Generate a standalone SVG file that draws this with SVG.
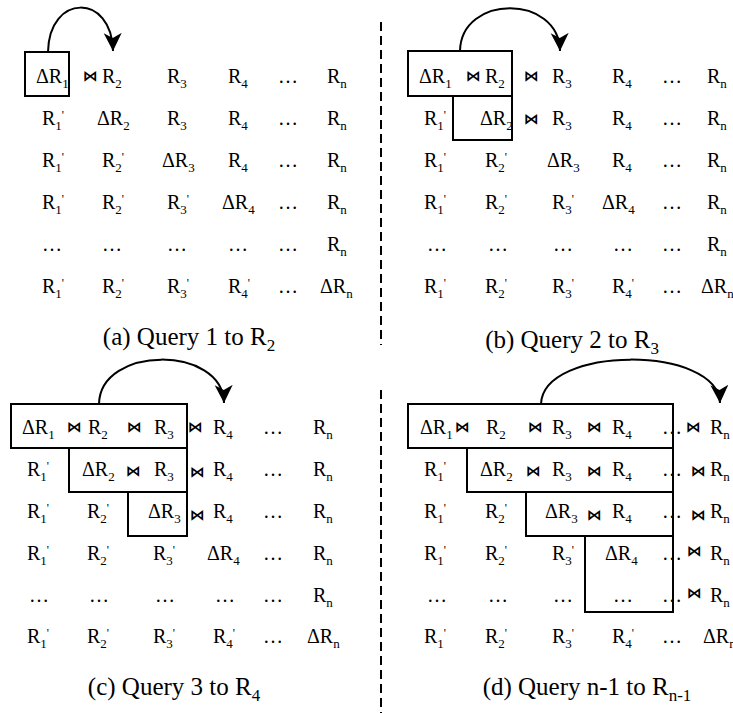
<svg xmlns="http://www.w3.org/2000/svg" width="733" height="713" viewBox="0 0 733 713" font-family="'Liberation Serif','Times New Roman',Tinos,'Nimbus Roman','DejaVu Serif',serif">
<style>
.t{font-family:"Liberation Serif","Times New Roman",Tinos,"Nimbus Roman","DejaVu Serif",serif;font-size:20px;fill:#000}
.s{font-size:13px}
.p{font-size:12px}
.cs{font-size:17px}
.cap{font-size:25px}
.j{font-family:"DejaVu Sans",sans-serif;font-size:15px;font-weight:bold;fill:#000}
.box{fill:none;stroke:#000;stroke-width:2}
.arc{fill:none;stroke:#000;stroke-width:2;marker-end:url(#ah)}
.dv{stroke:#000;stroke-width:2;stroke-dasharray:9 5}
</style>
<defs>
<marker id="ah" markerUnits="userSpaceOnUse" markerWidth="20" markerHeight="20" refX="18" refY="9" orient="auto">
<path d="M0,0 L18,9 L0,18 L5,9 Z" fill="#000"/>
</marker>
</defs>
<rect width="733" height="713" fill="#fff"/>
<g id="dividers">
<line class="dv" x1="381" y1="22" x2="381" y2="345"/>
<line class="dv" x1="381" y1="390" x2="381" y2="713"/>
</g>
<g id="connectors">
<path class="arc" d="M48,52 C49,-7 112,-7 113,51"/>
<path class="arc" d="M460,51 C461,-6 559,-6 560,51"/>
<path class="arc" d="M99,404 C100,345 223,345 224,403"/>
<path class="arc" d="M541,404 C543,345 718,345 720,403"/>
</g>
<g id="panel-a">
<g id="a-box1"><rect class="box" x="25" y="52" width="44" height="44"/></g>
<g id="a-row1">
<text class="t" x="36" y="83">ΔR<tspan class="s" dy="5">1</tspan></text>
<text class="j" x="83" y="81">⋈</text>
<text class="t" x="102" y="83">R<tspan class="s" dy="5">2</tspan></text>
<text class="t" x="167" y="83">R<tspan class="s" dy="5">3</tspan></text>
<text class="t" x="228" y="83">R<tspan class="s" dy="5">4</tspan></text>
<text class="t" x="278" y="83">…</text>
<text class="t" x="327" y="83">R<tspan class="s" dy="5">n</tspan></text>
</g>
<g id="a-row2">
<text class="t" x="42" y="125">R<tspan class="s" dy="5">1</tspan><tspan class="p" dy="-11">'</tspan></text>
<text class="t" x="97" y="125">ΔR<tspan class="s" dy="5">2</tspan></text>
<text class="t" x="167" y="125">R<tspan class="s" dy="5">3</tspan></text>
<text class="t" x="228" y="125">R<tspan class="s" dy="5">4</tspan></text>
<text class="t" x="278" y="125">…</text>
<text class="t" x="327" y="125">R<tspan class="s" dy="5">n</tspan></text>
</g>
<g id="a-row3">
<text class="t" x="42" y="167">R<tspan class="s" dy="5">1</tspan><tspan class="p" dy="-11">'</tspan></text>
<text class="t" x="102" y="167">R<tspan class="s" dy="5">2</tspan><tspan class="p" dy="-11">'</tspan></text>
<text class="t" x="162" y="167">ΔR<tspan class="s" dy="5">3</tspan></text>
<text class="t" x="228" y="167">R<tspan class="s" dy="5">4</tspan></text>
<text class="t" x="278" y="167">…</text>
<text class="t" x="327" y="167">R<tspan class="s" dy="5">n</tspan></text>
</g>
<g id="a-row4">
<text class="t" x="42" y="209">R<tspan class="s" dy="5">1</tspan><tspan class="p" dy="-11">'</tspan></text>
<text class="t" x="102" y="209">R<tspan class="s" dy="5">2</tspan><tspan class="p" dy="-11">'</tspan></text>
<text class="t" x="167" y="209">R<tspan class="s" dy="5">3</tspan><tspan class="p" dy="-11">'</tspan></text>
<text class="t" x="222" y="209">ΔR<tspan class="s" dy="5">4</tspan></text>
<text class="t" x="278" y="209">…</text>
<text class="t" x="327" y="209">R<tspan class="s" dy="5">n</tspan></text>
</g>
<g id="a-row5">
<text class="t" x="42" y="251">…</text>
<text class="t" x="102" y="251">…</text>
<text class="t" x="167" y="251">…</text>
<text class="t" x="228" y="251">…</text>
<text class="t" x="278" y="251">…</text>
<text class="t" x="327" y="251">R<tspan class="s" dy="5">n</tspan></text>
</g>
<g id="a-row6">
<text class="t" x="42" y="293">R<tspan class="s" dy="5">1</tspan><tspan class="p" dy="-11">'</tspan></text>
<text class="t" x="102" y="293">R<tspan class="s" dy="5">2</tspan><tspan class="p" dy="-11">'</tspan></text>
<text class="t" x="167" y="293">R<tspan class="s" dy="5">3</tspan><tspan class="p" dy="-11">'</tspan></text>
<text class="t" x="228" y="293">R<tspan class="s" dy="5">4</tspan><tspan class="p" dy="-11">'</tspan></text>
<text class="t" x="278" y="293">…</text>
<text class="t" x="320" y="293">ΔR<tspan class="s" dy="5">n</tspan></text>
</g>
<text id="a-caption" class="t cap" x="189" y="345" text-anchor="middle">(a) Query 1 to R<tspan class="cs" dy="6">2</tspan></text>
</g>
<g id="panel-b">
<g id="b-box1"><rect class="box" x="408" y="51" width="104" height="45"/></g>
<g id="b-box2"><path class="box" d="M453,96 V140 H512 V96"/></g>
<g id="b-row1">
<text class="t" x="419" y="83">ΔR<tspan class="s" dy="5">1</tspan></text>
<text class="j" x="466" y="81">⋈</text>
<text class="t" x="485" y="83">R<tspan class="s" dy="5">2</tspan></text>
<text class="j" x="524" y="81">⋈</text>
<text class="t" x="552" y="83">R<tspan class="s" dy="5">3</tspan></text>
<text class="t" x="612" y="83">R<tspan class="s" dy="5">4</tspan></text>
<text class="t" x="662" y="83">…</text>
<text class="t" x="707" y="83">R<tspan class="s" dy="5">n</tspan></text>
</g>
<g id="b-row2">
<text class="t" x="424" y="125">R<tspan class="s" dy="5">1</tspan><tspan class="p" dy="-11">'</tspan></text>
<text class="t" x="480" y="125">ΔR<tspan class="s" dy="5">2</tspan></text>
<text class="j" x="524" y="124">⋈</text>
<text class="t" x="552" y="125">R<tspan class="s" dy="5">3</tspan></text>
<text class="t" x="612" y="125">R<tspan class="s" dy="5">4</tspan></text>
<text class="t" x="662" y="125">…</text>
<text class="t" x="707" y="125">R<tspan class="s" dy="5">n</tspan></text>
</g>
<g id="b-row3">
<text class="t" x="424" y="167">R<tspan class="s" dy="5">1</tspan><tspan class="p" dy="-11">'</tspan></text>
<text class="t" x="485" y="167">R<tspan class="s" dy="5">2</tspan><tspan class="p" dy="-11">'</tspan></text>
<text class="t" x="547" y="167">ΔR<tspan class="s" dy="5">3</tspan></text>
<text class="t" x="612" y="167">R<tspan class="s" dy="5">4</tspan></text>
<text class="t" x="662" y="167">…</text>
<text class="t" x="707" y="167">R<tspan class="s" dy="5">n</tspan></text>
</g>
<g id="b-row4">
<text class="t" x="424" y="209">R<tspan class="s" dy="5">1</tspan><tspan class="p" dy="-11">'</tspan></text>
<text class="t" x="485" y="209">R<tspan class="s" dy="5">2</tspan><tspan class="p" dy="-11">'</tspan></text>
<text class="t" x="552" y="209">R<tspan class="s" dy="5">3</tspan><tspan class="p" dy="-11">'</tspan></text>
<text class="t" x="602" y="209">ΔR<tspan class="s" dy="5">4</tspan></text>
<text class="t" x="662" y="209">…</text>
<text class="t" x="707" y="209">R<tspan class="s" dy="5">n</tspan></text>
</g>
<g id="b-row5">
<text class="t" x="427" y="251">…</text>
<text class="t" x="488" y="251">…</text>
<text class="t" x="553" y="251">…</text>
<text class="t" x="613" y="251">…</text>
<text class="t" x="662" y="251">…</text>
<text class="t" x="707" y="251">R<tspan class="s" dy="5">n</tspan></text>
</g>
<g id="b-row6">
<text class="t" x="424" y="293">R<tspan class="s" dy="5">1</tspan><tspan class="p" dy="-11">'</tspan></text>
<text class="t" x="485" y="293">R<tspan class="s" dy="5">2</tspan><tspan class="p" dy="-11">'</tspan></text>
<text class="t" x="552" y="293">R<tspan class="s" dy="5">3</tspan><tspan class="p" dy="-11">'</tspan></text>
<text class="t" x="612" y="293">R<tspan class="s" dy="5">4</tspan><tspan class="p" dy="-11">'</tspan></text>
<text class="t" x="662" y="293">…</text>
<text class="t" x="701" y="293">ΔR<tspan class="s" dy="5">n</tspan></text>
</g>
<text id="b-caption" class="t cap" x="572" y="348" text-anchor="middle">(b) Query 2 to R<tspan class="cs" dy="6">3</tspan></text>
</g>
<g id="panel-c">
<g id="c-box1"><rect class="box" x="11" y="404" width="176" height="44"/></g>
<g id="c-box2"><path class="box" d="M69,448 V492 H187 V448"/></g>
<g id="c-box3"><path class="box" d="M128,492 V536 H187 V492"/></g>
<g id="c-row1">
<text class="t" x="22" y="434">ΔR<tspan class="s" dy="5">1</tspan></text>
<text class="j" x="67" y="432">⋈</text>
<text class="t" x="88" y="434">R<tspan class="s" dy="5">2</tspan></text>
<text class="j" x="127" y="432">⋈</text>
<text class="t" x="154" y="434">R<tspan class="s" dy="5">3</tspan></text>
<text class="j" x="188" y="432">⋈</text>
<text class="t" x="213" y="434">R<tspan class="s" dy="5">4</tspan></text>
<text class="t" x="263" y="434">…</text>
<text class="t" x="313" y="434">R<tspan class="s" dy="5">n</tspan></text>
</g>
<g id="c-row2">
<text class="t" x="27" y="476">R<tspan class="s" dy="5">1</tspan><tspan class="p" dy="-11">'</tspan></text>
<text class="t" x="82" y="476">ΔR<tspan class="s" dy="5">2</tspan></text>
<text class="j" x="126" y="476">⋈</text>
<text class="t" x="154" y="476">R<tspan class="s" dy="5">3</tspan></text>
<text class="j" x="190" y="477">⋈</text>
<text class="t" x="213" y="476">R<tspan class="s" dy="5">4</tspan></text>
<text class="t" x="263" y="476">…</text>
<text class="t" x="313" y="476">R<tspan class="s" dy="5">n</tspan></text>
</g>
<g id="c-row3">
<text class="t" x="27" y="518">R<tspan class="s" dy="5">1</tspan><tspan class="p" dy="-11">'</tspan></text>
<text class="t" x="87" y="518">R<tspan class="s" dy="5">2</tspan><tspan class="p" dy="-11">'</tspan></text>
<text class="t" x="148" y="518">ΔR<tspan class="s" dy="5">3</tspan></text>
<text class="j" x="190" y="520">⋈</text>
<text class="t" x="213" y="518">R<tspan class="s" dy="5">4</tspan></text>
<text class="t" x="263" y="518">…</text>
<text class="t" x="313" y="518">R<tspan class="s" dy="5">n</tspan></text>
</g>
<g id="c-row4">
<text class="t" x="27" y="560">R<tspan class="s" dy="5">1</tspan><tspan class="p" dy="-11">'</tspan></text>
<text class="t" x="87" y="560">R<tspan class="s" dy="5">2</tspan><tspan class="p" dy="-11">'</tspan></text>
<text class="t" x="153" y="560">R<tspan class="s" dy="5">3</tspan><tspan class="p" dy="-11">'</tspan></text>
<text class="t" x="207" y="560">ΔR<tspan class="s" dy="5">4</tspan></text>
<text class="t" x="263" y="560">…</text>
<text class="t" x="313" y="560">R<tspan class="s" dy="5">n</tspan></text>
</g>
<g id="c-row5">
<text class="t" x="29" y="602">…</text>
<text class="t" x="89" y="602">…</text>
<text class="t" x="155" y="602">…</text>
<text class="t" x="215" y="602">…</text>
<text class="t" x="263" y="602">…</text>
<text class="t" x="313" y="602">R<tspan class="s" dy="5">n</tspan></text>
</g>
<g id="c-row6">
<text class="t" x="27" y="643">R<tspan class="s" dy="5">1</tspan><tspan class="p" dy="-11">'</tspan></text>
<text class="t" x="87" y="643">R<tspan class="s" dy="5">2</tspan><tspan class="p" dy="-11">'</tspan></text>
<text class="t" x="153" y="643">R<tspan class="s" dy="5">3</tspan><tspan class="p" dy="-11">'</tspan></text>
<text class="t" x="213" y="643">R<tspan class="s" dy="5">4</tspan><tspan class="p" dy="-11">'</tspan></text>
<text class="t" x="263" y="643">…</text>
<text class="t" x="307" y="643">ΔR<tspan class="s" dy="5">n</tspan></text>
</g>
<text id="c-caption" class="t cap" x="174" y="695" text-anchor="middle">(c) Query 3 to R<tspan class="cs" dy="6">4</tspan></text>
</g>
<g id="panel-d">
<g id="d-box1"><rect class="box" x="408" y="404" width="265" height="44"/></g>
<g id="d-box2"><path class="box" d="M467,448 V492 H673 V448"/></g>
<g id="d-box3"><path class="box" d="M526,492 V536 H673 V492"/></g>
<g id="d-box4"><path class="box" d="M585,536 V612 H673 V536"/></g>
<g id="d-row1">
<text class="t" x="420" y="434">ΔR<tspan class="s" dy="5">1</tspan></text>
<text class="j" x="455" y="432">⋈</text>
<text class="t" x="486" y="434">R<tspan class="s" dy="5">2</tspan></text>
<text class="j" x="528" y="432">⋈</text>
<text class="t" x="552" y="434">R<tspan class="s" dy="5">3</tspan></text>
<text class="j" x="587" y="432">⋈</text>
<text class="t" x="612" y="434">R<tspan class="s" dy="5">4</tspan></text>
<text class="t" x="662" y="434">…</text>
<text class="j" x="686" y="432">⋈</text>
<text class="t" x="710" y="434">R<tspan class="s" dy="5">n</tspan></text>
</g>
<g id="d-row2">
<text class="t" x="424" y="476">R<tspan class="s" dy="5">1</tspan><tspan class="p" dy="-11">'</tspan></text>
<text class="t" x="480" y="476">ΔR<tspan class="s" dy="5">2</tspan></text>
<text class="j" x="526" y="476">⋈</text>
<text class="t" x="552" y="476">R<tspan class="s" dy="5">3</tspan></text>
<text class="j" x="587" y="476">⋈</text>
<text class="t" x="612" y="476">R<tspan class="s" dy="5">4</tspan></text>
<text class="t" x="662" y="476">…</text>
<text class="j" x="691" y="476">⋈</text>
<text class="t" x="710" y="476">R<tspan class="s" dy="5">n</tspan></text>
</g>
<g id="d-row3">
<text class="t" x="424" y="518">R<tspan class="s" dy="5">1</tspan><tspan class="p" dy="-11">'</tspan></text>
<text class="t" x="485" y="518">R<tspan class="s" dy="5">2</tspan><tspan class="p" dy="-11">'</tspan></text>
<text class="t" x="545" y="518">ΔR<tspan class="s" dy="5">3</tspan></text>
<text class="j" x="587" y="520">⋈</text>
<text class="t" x="612" y="518">R<tspan class="s" dy="5">4</tspan></text>
<text class="t" x="662" y="518">…</text>
<text class="j" x="691" y="520">⋈</text>
<text class="t" x="710" y="518">R<tspan class="s" dy="5">n</tspan></text>
</g>
<g id="d-row4">
<text class="t" x="424" y="560">R<tspan class="s" dy="5">1</tspan><tspan class="p" dy="-11">'</tspan></text>
<text class="t" x="485" y="560">R<tspan class="s" dy="5">2</tspan><tspan class="p" dy="-11">'</tspan></text>
<text class="t" x="552" y="560">R<tspan class="s" dy="5">3</tspan><tspan class="p" dy="-11">'</tspan></text>
<text class="t" x="605" y="560">ΔR<tspan class="s" dy="5">4</tspan></text>
<text class="t" x="662" y="560">…</text>
<text class="j" x="687" y="556">⋈</text>
<text class="t" x="710" y="560">R<tspan class="s" dy="5">n</tspan></text>
</g>
<g id="d-row5">
<text class="t" x="427" y="602">…</text>
<text class="t" x="488" y="602">…</text>
<text class="t" x="553" y="602">…</text>
<text class="t" x="613" y="602">…</text>
<text class="t" x="662" y="602">…</text>
<text class="j" x="687" y="598">⋈</text>
<text class="t" x="710" y="602">R<tspan class="s" dy="5">n</tspan></text>
</g>
<g id="d-row6">
<text class="t" x="424" y="643">R<tspan class="s" dy="5">1</tspan><tspan class="p" dy="-11">'</tspan></text>
<text class="t" x="485" y="643">R<tspan class="s" dy="5">2</tspan><tspan class="p" dy="-11">'</tspan></text>
<text class="t" x="552" y="643">R<tspan class="s" dy="5">3</tspan><tspan class="p" dy="-11">'</tspan></text>
<text class="t" x="612" y="643">R<tspan class="s" dy="5">4</tspan><tspan class="p" dy="-11">'</tspan></text>
<text class="t" x="662" y="643">…</text>
<text class="t" x="703" y="643">ΔR<tspan class="s" dy="5">n</tspan></text>
</g>
<text id="d-caption" class="t cap" x="587" y="695" text-anchor="middle">(d) Query n-1 to R<tspan class="cs" dy="6">n-1</tspan></text>
</g>
</svg>
